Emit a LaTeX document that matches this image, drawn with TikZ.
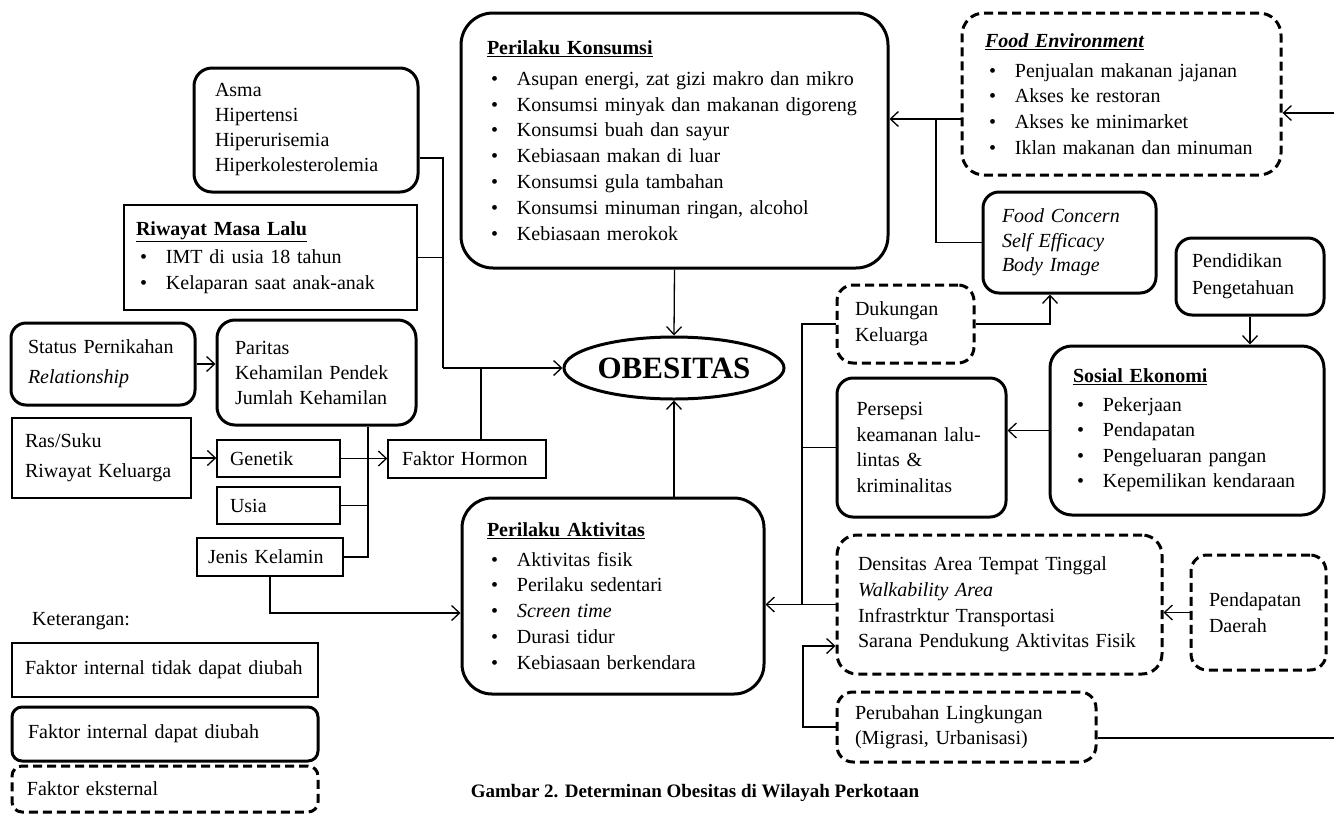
\documentclass[tikz,border=0pt]{standalone}
\usepackage{fontspec}
\setmainfont{Liberation Serif}
\usetikzlibrary{arrows.meta,shapes.geometric}
\newcommand{\itm}{\makebox[30pt][l]{\hspace{4pt}\textbullet}}

\begin{document}
\begin{tikzpicture}
[x=1pt,y=-1pt,font=\fontsize{20}{25.8}\selectfont]
\tikzset{tetap/.style={draw,line width=1.4pt,align=left,inner ysep=0pt}}
\tikzset{ubah/.style={draw,line width=3pt,rounded corners=16pt,align=left,inner ysep=0pt}}
\tikzset{luar/.style={draw,line width=3pt,dash pattern=on 9pt off 5pt,rounded corners=16pt,align=left,inner ysep=0pt}}
\tikzset{garis/.style={line width=1.3pt}}
\tikzset{panah/.style={garis,-{Straight Barb[length=8pt,width=15pt]}}}
\useasboundingbox (0,0) rectangle (1334,815);

% faktor konsumsi
\node [ubah,rounded corners=32pt,minimum width=427pt,minimum height=255pt,inner xsep=26pt,text width=375pt] (konsumsi) at (674.5,140.5) {\underline{\textbf{Perilaku Konsumsi}}\\[5pt]
\itm Asupan energi, zat gizi makro dan mikro\\
\itm Konsumsi minyak dan makanan digoreng\\
\itm Konsumsi buah dan sayur\\
\itm Kebiasaan makan di luar\\
\itm Konsumsi gula tambahan\\
\itm Konsumsi minuman ringan, alcohol\\
\itm Kebiasaan merokok};
\node [luar,rounded corners=22pt,minimum width=319pt,minimum height=162pt,inner xsep=23pt,text width=273pt] (foodenv) at (1121.5,94) {\underline{\textbf{\textit{Food Environment}}}\\[4pt]
\itm Penjualan makanan jajanan\\
\itm Akses ke restoran\\
\itm Akses ke minimarket\\
\itm Iklan makanan dan minuman};
\node [ubah,minimum width=173pt,minimum height=101pt,inner xsep=19pt,text width=135pt,font=\fontsize{20}{24.5}\selectfont\itshape] (concern) at (1069.5,242.5) {Food Concern\\Self Efficacy\\Body Image};

% faktor internal
\node [ubah,rounded corners=18pt,minimum width=224pt,minimum height=124pt,inner xsep=21pt,text width=182pt,font=\fontsize{20}{25}\selectfont] (asma) at (306,130) {Asma\\Hipertensi\\Hiperurisemia\\Hiperkolesterolemia};
\node [tetap,minimum width=293pt,minimum height=105pt,inner xsep=12pt,text width=269pt] (riwayat) at (270.5,257.5) {\underline{\textbf{Riwayat Masa Lalu}}\\[3pt]
\itm IMT di usia 18 tahun\\
\itm Kelaparan saat anak-anak};
\node [ubah,rounded corners=15pt,minimum width=184pt,minimum height=82pt,inner xsep=17pt,text width=150pt,font=\fontsize{20}{30}\selectfont] (status) at (103,364) {Status Pernikahan\\\textit{Relationship}};
\node [ubah,rounded corners=18pt,minimum width=199pt,minimum height=105pt,inner xsep=18pt,text width=163pt,font=\fontsize{20}{25}\selectfont] (paritas) at (316.5,372.5) {Paritas\\Kehamilan Pendek\\Jumlah Kehamilan};
\node [tetap,minimum width=179pt,minimum height=80pt,inner xsep=13pt,text width=153pt,font=\fontsize{20}{30}\selectfont] (ras) at (101.5,458) {Ras/Suku\\Riwayat Keluarga};
\node [tetap,minimum width=123pt,minimum height=37pt,inner xsep=13pt,text width=97pt] (genetik) at (278.5,458.5) {Genetik};
\node [tetap,minimum width=123pt,minimum height=37pt,inner xsep=13pt,text width=97pt] (usia) at (278.5,505.5) {Usia};
\node [tetap,minimum width=146pt,minimum height=38pt,inner xsep=11pt,text width=124pt] (jenis) at (270,557) {Jenis Kelamin};
\node [tetap,minimum width=158pt,minimum height=38pt,inner xsep=14pt,text width=130pt] (hormon) at (467,459) {Faktor Hormon};

% pusat
\node [draw,ellipse,line width=3pt,minimum width=220pt,minimum height=62pt,inner sep=0pt,font=\fontsize{31}{31}\selectfont\bfseries] (obesitas) at (674,368) {OBESITAS};
\node [ubah,rounded corners=30pt,minimum width=302pt,minimum height=196pt,inner xsep=25pt,text width=252pt] (aktivitas) at (613,596) {\underline{\textbf{Perilaku Aktivitas}}\\[4pt]
\itm Aktivitas fisik\\
\itm Perilaku sedentari\\
\itm \textit{Screen time}\\
\itm Durasi tidur\\
\itm Kebiasaan berkendara};

% faktor eksternal
\node [ubah,minimum width=148pt,minimum height=77pt,inner xsep=16pt,text width=116pt,font=\fontsize{20}{27}\selectfont] (pendidikan) at (1250,276.5) {Pendidikan\\Pengetahuan};
\node [ubah,rounded corners=22pt,minimum width=274pt,minimum height=169pt,inner xsep=23pt,text width=228pt,font=\fontsize{20}{25.5}\selectfont] (sosial) at (1187,430.5) {\underline{\textbf{Sosial Ekonomi}}\\[3pt]
\itm Pekerjaan\\
\itm Pendapatan\\
\itm Pengeluaran pangan\\
\itm Kepemilikan kendaraan};
\node [luar,minimum width=137pt,minimum height=78pt,inner xsep=18pt,text width=101pt] (dukungan) at (905.5,324) {Dukungan\\Keluarga};
\node [ubah,minimum width=169pt,minimum height=139pt,inner xsep=19.5pt,text width=130pt] (persepsi) at (921.5,447.5) {Persepsi\\keamanan lalu-\\lintas \&\\kriminalitas};
\node [luar,rounded corners=20pt,minimum width=325pt,minimum height=139pt,inner xsep=21pt,text width=283pt] (densitas) at (999.5,604.5) {Densitas Area Tempat Tinggal\\\textit{Walkability Area}\\Infrastrktur Transportasi\\Sarana Pendukung Aktivitas Fisik};
\node [luar,minimum width=135pt,minimum height=115pt,inner xsep=18pt,text width=99pt] (daerah) at (1258.5,612.5) {Pendapatan\\Daerah};
\node [luar,minimum width=259pt,minimum height=70pt,inner xsep=18pt,text width=223pt,font=\fontsize{20}{25}\selectfont] (perubahan) at (966.5,727) {Perubahan Lingkungan\\(Migrasi, Urbanisasi)};

% keterangan
\node [anchor=base west,inner sep=0pt] (ket) at (32,625) {Keterangan:};
\node [tetap,minimum width=306pt,minimum height=54pt,inner xsep=13pt,text width=280pt] (leg1) at (165,670) {Faktor internal tidak dapat diubah};
\node [ubah,rounded corners=10pt,minimum width=306pt,minimum height=54pt,inner xsep=16pt,text width=274pt] (leg2) at (165,734) {Faktor internal dapat diubah};
\node [luar,rounded corners=10pt,minimum width=306pt,minimum height=46pt,inner xsep=15pt,text width=276pt] (leg3) at (165,789) {Faktor eksternal};
\node [font=\fontsize{19}{19}\selectfont\bfseries] (judul) at (695,793) {Gambar 2. Determinan Obesitas di Wilayah Perkotaan};

% titik belok
\coordinate (kiri) at (443,368);
\coordinate (tengah) at (368,425);
\coordinate (cabang) at (936,119);
\coordinate (kanan) at (802,604.5);
\coordinate (belok) at (803,646);
\coordinate (tepi1) at (1334,113);
\coordinate (tepi2) at (1334,738);

\draw[garis] ([yshift=-28pt]asma.east) -| (kiri);
\draw[garis] (riwayat.east) -- (riwayat.east -| kiri);
\draw[panah] (kiri) -- (obesitas.west);
\draw[garis] ([xshift=14pt]hormon.north) -- ([xshift=14pt]hormon.north |- kiri);
\draw[panah] (konsumsi.south) -- (obesitas.north);
\draw[panah] (obesitas.south |- aktivitas.north) -- (obesitas.south);

\foreach \from/\to in {status/paritas,ras/genetik,genetik/hormon}
	\draw[panah] (\from.east) -- (\from.east -| \to.west);
\foreach \from/\to in {sosial/persepsi,daerah/densitas}
	\draw[panah] (\from.west) -- (\from.west -| \to.east);

\draw[garis] ([xshift=51.5pt]paritas.south) |- (jenis.east);
\draw[garis] (usia.east) -- (usia.east -| tengah);
\draw[panah] (jenis.south) |- ([yshift=-17pt]aktivitas.west);

\draw[panah] ([yshift=-25pt]foodenv.west) -- ([yshift=-25pt]foodenv.west -| konsumsi.east);
\draw[garis] (cabang) |- (concern.west);
\draw[panah] (tepi1) -- (tepi1 -| foodenv.east);
\draw[panah] (dukungan.east) -| ([xshift=-19.5pt]concern.south);
\draw[panah] (pendidikan.south) -- (pendidikan.south |- sosial.north);
\draw[garis] (dukungan.west) -| (kanan);
\draw[garis] (persepsi.west) -- (persepsi.west -| kanan);
\draw[panah] (densitas.west) -- (densitas.west -| aktivitas.east);
\draw[panah] (perubahan.west) -| (belok) -- (belok -| densitas.west);
\draw[garis] ([yshift=-11pt]perubahan.east) -- (tepi2);

\end{tikzpicture}
\end{document}
